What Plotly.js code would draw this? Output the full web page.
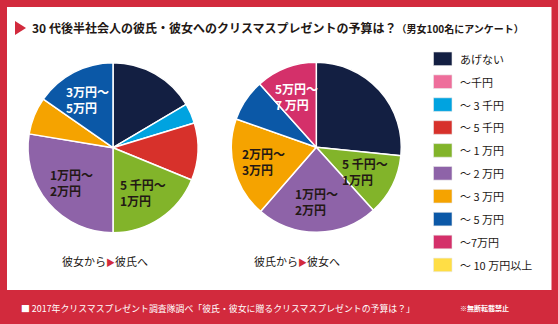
<!DOCTYPE html>
<html><head><meta charset="utf-8">
<script src="https://cdn.plot.ly/plotly-3.0.1.min.js"></script>
<style>html,body{margin:0;padding:0;background:#d22a3d;}#chart{width:558px;height:324px;}</style>
</head><body><div id="chart"></div>
<script>
// Legend categories and colours
const legendLabels = ["あげない","～千円","～ 3 千円","～ 5 千円","～ 1 万円","～ 2 万円","～ 3 万円","～ 5 万円","～7万円","～ 10 万円以上"];
const legendColors = ["#131f42","#ee6e9b","#00a3e0","#d7312b","#82b42a","#8e63a8","#f5a300","#0b58a7","#d4306a","#ffde45"];

// Pie 1: 彼女から彼氏へ (percent)
const pie1Labels = ["あげない","～ 3 千円","～ 5 千円","～ 1 万円","～ 2 万円","～ 3 万円","～ 5 万円"];
const pie1Values = [16.5, 3.8, 10.9, 18.8, 27.6, 7.1, 15.3];
const pie1Text   = ["","","","5 千円～<br>1万円","1万円～<br>2万円","","3万円～<br>5万円"];
const pie1Colors = ["#131f42","#00a3e0","#d7312b","#82b42a","#8e63a8","#f5a300","#0b58a7"];
const pie1TextColors = ["#fff","#fff","#fff","#231815","#231815","#231815","#ffffff"];

// Pie 2: 彼氏から彼女へ (percent)
const pie2Labels = ["あげない","～ 1 万円","～ 2 万円","～ 3 万円","～ 5 万円","～7万円"];
const pie2Values = [26.6, 11.7, 23.1, 19.0, 8.0, 11.6];
const pie2Text   = ["","5 千円～<br>1万円","1万円～<br>2万円","2万円～<br>3万円","","5万円～<br>7 万円"];
const pie2Colors = ["#131f42","#82b42a","#8e63a8","#f5a300","#0b58a7","#d4306a"];
const pie2TextColors = ["#fff","#231815","#231815","#231815","#fff","#ffffff"];

const titleMain = "30 代後半社会人の彼氏・彼女へのクリスマスプレゼントの予算は？";
const titleSub = "（男女100名にアンケート）";
const pie1Caption = ["彼女から","彼氏へ"];
const pie2Caption = ["彼氏から","彼女へ"];
const footer = "■ 2017年クリスマスプレゼント調査隊調べ「彼氏・彼女に贈るクリスマスプレゼントの予算は？」";
const footerRight = "※無断転載禁止";

const W = 558, H = 324;
const FONT = "Noto Sans CJK JP";
const px = x => x / W;
const py = y => 1 - y / H;

const pie1Geom = {cx: 113, cy: 147.7, r: 85};
const pie2Geom = {cx: 316.3, cy: 147.3, r: 85};
const LABEL_R = 0.64;

function pieTrace(labels, values, colors, g) {
  return {
    type: "pie", labels, values, sort: false, direction: "clockwise", rotation: 0,
    domain: {x: [px(g.cx - g.r), px(g.cx + g.r)], y: [py(g.cy + g.r), py(g.cy - g.r)]},
    marker: {colors, line: {color: "#ffffff", width: 1.5}},
    textinfo: "none", showlegend: false, hoverinfo: "none"
  };
}

const data = [
  pieTrace(pie1Labels, pie1Values, pie1Colors, pie1Geom),
  pieTrace(pie2Labels, pie2Values, pie2Colors, pie2Geom)
];

const shapes = [
  {type: "rect", xref: "paper", yref: "paper", x0: px(7), x1: px(551.5), y0: py(290), y1: py(7), fillcolor: "#ffffff", line: {width: 0}, layer: "below"}
];
const annotations = [];

// Slice labels placed at the mid-angle of each slice (derived from values)
function sliceLabels(values, texts, tcolors, g) {
  const total = values.reduce((a, b) => a + b, 0);
  let cum = 0;
  values.forEach((v, i) => {
    const mid = (cum + v / 2) / total * 2 * Math.PI;
    cum += v;
    if (!texts[i]) return;
    const x = g.cx + g.r * LABEL_R * Math.sin(mid);
    const y = g.cy - g.r * LABEL_R * Math.cos(mid);
    annotations.push({xref: "paper", yref: "paper", x: px(x), y: py(y), xanchor: "center", yanchor: "middle",
      showarrow: false, align: "left", text: `<b>${texts[i]}</b>`,
      font: {family: FONT, size: 12, color: tcolors[i]}});
  });
}
sliceLabels(pie1Values, pie1Text, pie1TextColors, pie1Geom);
sliceLabels(pie2Values, pie2Text, pie2TextColors, pie2Geom);

// Title triangle
shapes.push({type: "path", xref: "paper", yref: "paper",
  path: `M ${px(15)} ${py(21)} L ${px(26)} ${py(28)} L ${px(15)} ${py(35)} Z`,
  fillcolor: "#d22a3d", line: {width: 0}});
annotations.push({xref: "paper", yref: "paper", x: px(30), y: py(28), xanchor: "left", yanchor: "middle", showarrow: false,
  text: `<b>${titleMain}</b><span style="font-size:10px"><b>${titleSub}</b></span>`,
  font: {family: FONT, size: 12, color: "#231815"}});

// Legend (built from arrays)
legendLabels.forEach((lab, i) => {
  const yc = 58.8 + i * 22.9;
  shapes.push({type: "rect", xref: "paper", yref: "paper", x0: px(433.5), x1: px(452), y0: py(yc + 6.8), y1: py(yc - 6.8),
    fillcolor: legendColors[i], line: {color: "#e8e8e8", width: 0.6}});
  annotations.push({xref: "paper", yref: "paper", x: px(458), y: py(yc), xanchor: "left", yanchor: "middle", showarrow: false,
    text: lab, font: {family: FONT, size: 11, color: "#231815"}});
});

// Captions
function caption(parts, cx) {
  annotations.push({xref: "paper", yref: "paper", x: px(cx), y: py(261), xanchor: "center", yanchor: "middle", showarrow: false,
    text: `${parts[0]}<span style="color:#d22a3d;font-size:9px">▶</span>${parts[1]}`,
    font: {family: FONT, size: 11, color: "#231815"}});
}
caption(pie1Caption, 105);
caption(pie2Caption, 297);

// Footer
annotations.push({xref: "paper", yref: "paper", x: px(19), y: py(308), xanchor: "left", yanchor: "middle", showarrow: false,
  text: footer, font: {family: FONT, size: 8.9, color: "#ffffff"}});
annotations.push({xref: "paper", yref: "paper", x: px(511), y: py(308), xanchor: "right", yanchor: "middle", showarrow: false,
  text: `<b>${footerRight}</b>`, font: {family: FONT, size: 7, color: "#ffffff"}});

const layout = {
  width: W, height: H, margin: {l: 0, r: 0, t: 0, b: 0, pad: 0},
  paper_bgcolor: "#d22a3d", plot_bgcolor: "rgba(0,0,0,0)",
  showlegend: false, shapes, annotations,
  font: {family: FONT}
};
Plotly.newPlot("chart", data, layout, {displayModeBar: false, staticPlot: true});
</script></body></html>
